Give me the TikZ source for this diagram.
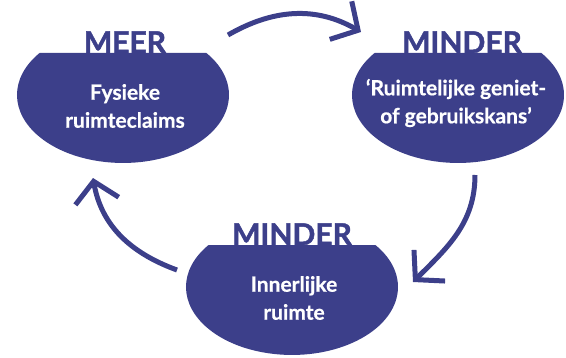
\documentclass[tikz,border=0pt]{standalone}
\usepackage{fontspec}
\setmainfont{Lato}
\newfontface\heavyface{Lato Bold}[FakeBold=1.6]
\newfontface\midface{Lato Bold}[FakeBold=0.6]
\usepackage{tikz}
\usetikzlibrary{arrows.meta, positioning}
\definecolor{deepblue}{HTML}{3C3F8A}
\tikzset{
  bowl/.style={fill=deepblue},
  caption/.style={font=\heavyface\fontsize{30}{30}\selectfont, text=deepblue,
                  inner sep=0pt, anchor=base},
  inside/.style={font=\midface\fontsize{21}{28}\selectfont, text=white,
                 align=center, inner sep=0pt},
  cycarrow/.style={-{Straight Barb[length=20pt, width=44pt]}, line width=5pt,
                   draw=deepblue},
}
\newcommand{\bowlat}[1]{%
  \fill[bowl] (#1) ++(83.4,42) arc[start angle=38.1, end angle=-218.1,
    x radius=106, y radius=68] -- cycle;}

\begin{document}
\begin{tikzpicture}[x=1pt, y=1pt]
  \useasboundingbox (0,0) rectangle (566,357);
  \coordinate (lc) at (123,262);
  \coordinate (rc) at (458,262);
  \coordinate (bc) at (292,70);
  \bowlat{lc}
  \bowlat{rc}
  \bowlat{bc}
  \node[caption] (meer) at ([xshift=2, yshift=42]lc) {MEER};
  \node[caption] (mindr) at ([xshift=4, yshift=42]rc) {MINDER};
  \node[caption] (mindb) at ([yshift=42]bc) {MINDER};
  \node[inside] (fys) at (125,251) {Fysieke\\ruimteclaims};
  \node[inside] (gen) at (456,254) {‘Ruimtelijke geniet-\\of gebruikskans’};
  \node[inside] (inn) at (294,59) {Innerlijke\\ruimte};
  \coordinate (a1) at (228,322);
  \coordinate (a2) at (361,325);
  \coordinate (b1) at (475,182);
  \coordinate (b2) at (413,75);
  \coordinate (c1) at (177,87);
  \coordinate (c2) at (93,179);
  \draw[cycarrow] (a1) to[out=30, in=150] (a2);
  \draw[cycarrow] (b1) to[out=-90, in=45] (b2);
  \draw[cycarrow] (c1) to[out=160, in=-80] (c2);
\end{tikzpicture}
\end{document}
